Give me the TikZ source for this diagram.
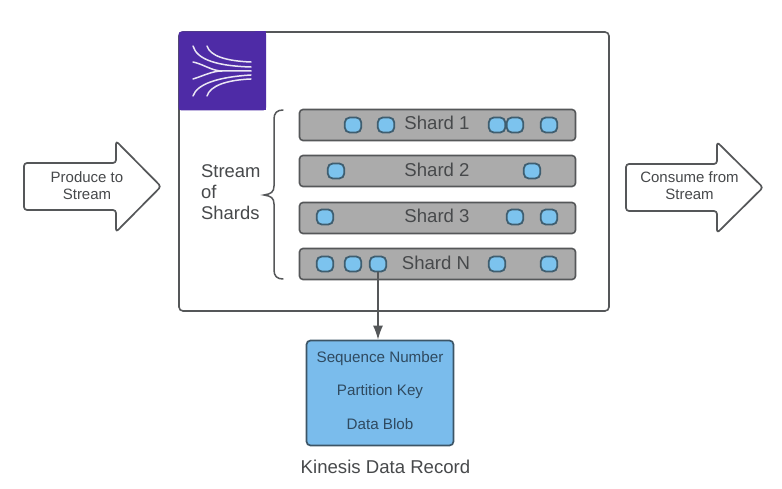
\documentclass[tikz,border=0pt]{standalone}
\usepackage{fontspec}
\usetikzlibrary{arrows.meta}
\setmainfont{Liberation Sans}
\definecolor{linec}{HTML}{555759}
\definecolor{txt}{HTML}{47494B}
\definecolor{barc}{HTML}{ABABAB}
\definecolor{blobc}{HTML}{7CC3EE}
\definecolor{blobl}{HTML}{3F5E70}
\definecolor{recc}{HTML}{7ABCEC}
\definecolor{recl}{HTML}{3C5566}
\definecolor{rect}{HTML}{2F4A60}
\definecolor{purp}{HTML}{4E2BA6}
\tikzset{
 bigarrow/.style={draw=linec,line width=1.7pt,fill=white,rounded corners=3pt,line join=round},
 bar/.style={draw=linec,line width=1.6pt,fill=barc,rounded corners=3.5pt,minimum width=276pt,minimum height=31pt,inner sep=0pt},
 blob/.style={draw=blobl,line width=1.8pt,fill=blobc,rounded corners=5pt,minimum width=16.5pt,minimum height=15pt,inner sep=0pt},
 lbl/.style={text=txt,font=\fontsize{18.6}{21}\selectfont,inner sep=0pt},
 small/.style={text=txt,font=\fontsize{15}{17}\selectfont,align=center,inner sep=0pt},
 rtext/.style={text=rect,font=\fontsize{15.2}{18}\selectfont,inner sep=0pt},
 strand/.style={draw=white!88!purp,line width=1.5pt,line cap=round},
}
\begin{document}
\begin{tikzpicture}[x=1pt,y=-1pt]
\useasboundingbox (0,0) rectangle (782,489);
% main box
\node[draw=linec,line width=1.6pt,fill=white,rounded corners=4pt,minimum width=430pt,minimum height=279pt,inner sep=0pt] (main) at (394,171.5) {};
\fill[purp,rounded corners=3pt] (178.5,110.5) -- (178.5,31.5) -- (266,31.5) -- (266,110.5) -- cycle;
\fill[purp] (178.5,100) rectangle (190,110.5);
\fill[purp] (255,100) rectangle (266,110.5);
\fill[purp] (255,31.5) rectangle (266,40);
% logo
\draw[strand] (193,46) .. controls (197,60) and (218,66) .. (251,67);
\draw[strand] (207,46) .. controls (210,56) and (226,61) .. (251,62);
\draw[strand] (193,62) .. controls (203,64) and (212,71) .. (222,71) -- (251,71);
\draw[strand] (193,79) .. controls (203,76) and (212,71) .. (222,71);
\draw[strand] (193,96) .. controls (197,84) and (218,77) .. (251,75);
\draw[strand] (207,96) .. controls (210,86) and (226,80) .. (251,79);
% brace
\draw[linec,line width=1.5pt,line cap=round] (283,110) .. controls (277,110) and (274,113) .. (274,119) -- (274,186) .. controls (274,192) and (271,194) .. (264,195) .. controls (271,196) and (274,198) .. (274,204) -- (274,270) .. controls (274,276) and (277,279) .. (283,279);
\node[lbl,align=left,anchor=west,font=\fontsize{18.4}{21}\selectfont] (sos) at (201,192) {Stream\\of\\Shards};
% shards
\node[bar] (s1) at (437.5,125) {};
\node[bar] (s2) at (437.5,171) {};
\node[bar] (s3) at (437.5,218) {};
\node[bar] (sn) at (437.5,264) {};
\node[lbl] (t1) at (437,123) {Shard 1};
\node[lbl] (t2) at (437,170) {Shard 2};
\node[lbl] (t3) at (437,216) {Shard 3};
\node[lbl] (tn) at (436,263) {Shard N};
\node[blob] (a1) at (353,125) {};
\node[blob] (a2) at (386,125) {};
\node[blob] (a3) at (497,125) {};
\node[blob] (a4) at (515,125) {};
\node[blob] (a5) at (549,125) {};
\node[blob] (b1) at (336,171) {};
\node[blob] (b2) at (532,171) {};
\node[blob] (c1) at (325,217) {};
\node[blob] (c2) at (515,217) {};
\node[blob] (c3) at (549,217) {};
\node[blob] (d1) at (325,264) {};
\node[blob] (d2) at (353,264) {};
\node[blob] (d3) at (378,264) {};
\node[blob] (d4) at (497,264) {};
\node[blob] (d5) at (549,264) {};
% record
\node[draw=recl,line width=1.7pt,fill=recc,rounded corners=4pt,minimum width=147pt,minimum height=105pt,inner sep=0pt] (rec) at (380,393) {};
\node[rtext] (f1) at (380,358.5) {Sequence Number};
\node[rtext] (f2) at (380,391.5) {Partition Key};
\node[rtext] (f3) at (380,424.5) {Data Blob};
\node[lbl] (cap) at (385.5,467) {Kinesis Data Record};
\draw[draw=linec,line width=1.4pt,-{Latex[length=14pt,width=10pt]}] (d3.south) -- (rec.north -| d3.south);
% side arrows
\draw[bigarrow] (24,163) -- (116,163) -- (116,141) -- (161,186.5) -- (116,232) -- (116,210) -- (24,210) -- cycle;
\node[small] (pr) at (87,185.5) {Produce to\\Stream};
\draw[bigarrow] (626,164) -- (717,164) -- (717,142) -- (763,187.5) -- (717,233) -- (717,211) -- (626,211) -- cycle;
\node[small] (co) at (689.5,185.5) {Consume from\\Stream};
\end{tikzpicture}
\end{document}
